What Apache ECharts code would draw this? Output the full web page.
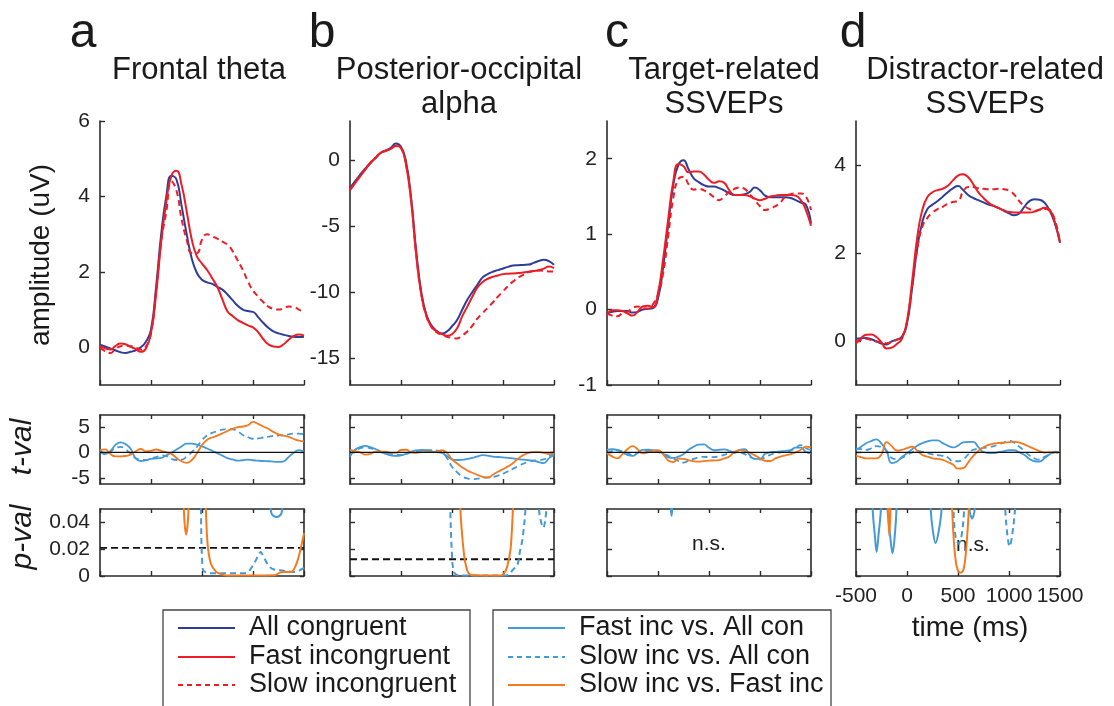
<!DOCTYPE html>
<html>
<head>
<meta charset="utf-8">
<script src="https://cdn.jsdelivr.net/npm/echarts@6/dist/echarts.min.js"></script>
<style>
html, body { margin: 0; padding: 0; background: #fff; }
#chart { width: 1114px; height: 706px; }
</style>
</head>
<body>
<div id="chart"></div>
<script>
// time points (ms)
var time = [-500, -450, -400, -350, -300, -250, -200, -150, -100, -50, 0,
    50, 100, 150, 200, 250, 300, 350, 400, 450, 500,
    550, 600, 650, 700, 750, 800, 850, 900, 950, 1000,
    1050, 1100, 1150, 1200, 1250, 1300, 1350, 1400, 1450, 1500];

// amplitude (uV): a = frontal theta, b = posterior-occipital alpha, c = target SSVEP, d = distractor SSVEP
var ampA_con = [0.07, 0.02, -0.03, -0.08, -0.13, -0.15, -0.12, -0.08, 0.0, 0.15, 0.47,
    1.6, 3.0, 4.0, 4.55, 4.45, 3.75, 3.0, 2.35, 1.97, 1.79,
    1.72, 1.68, 1.6, 1.53, 1.4, 1.25, 1.1, 1.0, 0.96, 0.94,
    0.8, 0.65, 0.52, 0.42, 0.37, 0.33, 0.3, 0.28, 0.27, 0.28];
var ampA_fast = [0.03, -0.03, -0.06, 0.03, 0.1, 0.08, 0.01, -0.05, -0.12, -0.03, 0.38,
    1.4, 2.8, 3.85, 4.55, 4.68, 4.3, 3.6, 2.85, 2.41, 2.22,
    2.05, 1.83, 1.6, 1.27, 0.95, 0.83, 0.72, 0.65, 0.58, 0.53,
    0.4, 0.22, 0.08, 0.02, 0.01, 0.08, 0.2, 0.3, 0.34, 0.31];
var ampA_slow = [-0.02, -0.1, -0.15, -0.06, 0.03, 0.04, 0.03, 0.0, -0.06, 0.02, 0.38,
    1.5, 2.8, 3.6, 4.4, 4.15, 3.4, 2.85, 2.5, 2.5, 2.85,
    3.0, 2.94, 2.88, 2.8, 2.72, 2.55, 2.3, 2.05, 1.75, 1.5,
    1.35, 1.2, 1.08, 1.02, 1.0, 1.03, 1.08, 1.07, 1.0, 0.94];

var ampB_con = [-2.08, -1.55, -1.06, -0.6, -0.18, 0.2, 0.58, 0.78, 0.96, 1.3, 1.05,
    -0.1, -2.9, -6.9, -10.0, -11.7, -12.5, -12.9, -13.1, -12.95, -12.55,
    -12.08, -11.3, -10.55, -9.95, -9.4, -8.85, -8.6, -8.42, -8.3, -8.17,
    -8.05, -7.95, -7.93, -7.9, -7.88, -7.75, -7.6, -7.52, -7.62, -7.9];
var ampB_fast = [-2.25, -1.7, -1.19, -0.68, -0.18, 0.2, 0.58, 0.74, 0.89, 1.1, 0.95,
    -0.35, -3.1, -7.2, -10.2, -11.8, -12.6, -12.95, -13.14, -13.27, -13.15,
    -12.7, -11.8, -11.06, -10.3, -9.6, -9.2, -8.95, -8.8, -8.7, -8.6,
    -8.57, -8.55, -8.52, -8.48, -8.42, -8.36, -8.3, -8.18, -8.03, -8.15];
var ampB_slow = [-2.2, -1.65, -1.15, -0.65, -0.15, 0.22, 0.6, 0.75, 0.9, 1.12, 0.98,
    -0.3, -3.05, -7.15, -10.15, -11.8, -12.62, -13.0, -13.2, -13.35, -13.42,
    -13.47, -13.25, -12.95, -12.5, -11.95, -11.55, -11.15, -10.75, -10.3, -9.9,
    -9.5, -9.15, -8.85, -8.65, -8.45, -8.38, -8.33, -8.35, -8.4, -8.4];

var ampC_con = [-0.05, -0.03, -0.02, -0.02, -0.02, -0.04, -0.03, 0.0, 0.01, 0.02, 0.15,
    0.56, 1.12, 1.65, 1.92, 1.98, 1.86, 1.74, 1.69, 1.65, 1.63,
    1.63, 1.61, 1.58, 1.54, 1.52, 1.52, 1.53, 1.56, 1.62, 1.58,
    1.51, 1.49, 1.49, 1.49, 1.49, 1.48, 1.45, 1.42, 1.39, 1.14];
var ampC_fast = [-0.08, -0.01, -0.01, -0.02, -0.05, -0.08, -0.03, 0.04, 0.05, 0.03, 0.22,
    0.67, 1.2, 1.7, 1.93, 1.9, 1.82, 1.83, 1.83, 1.79, 1.72,
    1.68, 1.7, 1.68, 1.58, 1.52, 1.52, 1.52, 1.5, 1.47, 1.45,
    1.47, 1.5, 1.51, 1.52, 1.52, 1.52, 1.51, 1.45, 1.32, 1.11];
var ampC_slow = [-0.05, -0.08, -0.09, -0.05, -0.03, 0.02, 0.04, 0.02, 0.01, 0.07, 0.2,
    0.48, 0.98, 1.48, 1.73, 1.76, 1.66, 1.59, 1.6, 1.58, 1.54,
    1.49, 1.45, 1.5, 1.56, 1.6, 1.62, 1.6, 1.53, 1.45, 1.37,
    1.32, 1.34, 1.37, 1.42, 1.5, 1.53, 1.54, 1.54, 1.5, 1.32];

var ampD_con = [0.05, 0.06, 0.07, 0.04, -0.01, -0.06, -0.08, -0.01, 0.03, 0.1, 0.4,
    1.2, 2.1, 2.7, 3.0, 3.1, 3.18, 3.28, 3.38, 3.47, 3.52,
    3.43, 3.32, 3.25, 3.2, 3.15, 3.1, 3.07, 3.02, 2.96, 2.9,
    2.86, 2.9, 3.05, 3.18, 3.22, 3.21, 3.14, 2.96, 2.67, 2.24];
var ampD_fast = [-0.06, 0.07, 0.14, 0.15, 0.09, -0.03, -0.17, -0.15, -0.07, 0.05, 0.45,
    1.35, 2.35, 2.98, 3.27, 3.38, 3.43, 3.46, 3.53, 3.65, 3.76,
    3.79, 3.72, 3.56, 3.38, 3.25, 3.14, 3.07, 3.02, 2.97, 2.93,
    2.92, 2.92, 2.92, 2.92, 2.94, 2.99, 3.03, 2.98, 2.7, 2.23];
var ampD_slow = [-0.02, 0.03, 0.05, 0.02, -0.01, -0.03, -0.05, -0.02, 0.03, 0.09, 0.45,
    1.26, 2.09, 2.6, 2.8, 2.92, 3.0, 3.05, 3.12, 3.16, 3.18,
    3.4, 3.5, 3.5, 3.47, 3.46, 3.45, 3.45, 3.46, 3.45, 3.42,
    3.33, 3.18, 3.07, 3.0, 2.96, 2.98, 3.0, 2.96, 2.75, 2.24];

// t-values
var tA_fast = [0.44, -0.3, 0.2, 1.4, 1.95, 1.6, 0.7, -1.2, -1.7, -1.55, -1.3,
    -1.2, -1.1, -0.6, -0.1, 0.55, 1.15, 1.7, 1.7, 1.48, 1.15,
    0.75, 0.3, -0.19, -0.65, -1.13, -1.4, -1.63, -1.55, -1.45, -1.55,
    -1.63, -1.7, -1.75, -1.82, -1.88, -1.76, -0.9, -0.1, 0.44, 0.13];
var tA_slow = [0.13, -0.4, 0.1, 0.8, 1.05, 0.6, -0.25, -1.15, -1.45, -1.5, -1.25,
    -0.95, -0.6, -0.75, -1.3, -1.5, -1.45, -0.8, 0.05, 1.06, 2.4,
    3.3, 3.8, 4.1, 4.45, 4.55, 4.5, 4.1, 3.4, 2.95, 2.65,
    2.7, 2.9, 3.05, 3.22, 3.3, 3.38, 3.5, 3.68, 3.65, 3.56];
var tA_sf = [0.44, 0.56, -0.3, -0.78, -0.8, -0.72, -0.45, 0.2, 0.65, 0.2, 0.3,
    0.55, 0.3, 0.0, -0.3, -1.1, -1.75, -2.05, -1.5, -0.2, 1.4,
    2.44, 2.9, 3.25, 3.7, 4.19, 4.6, 4.95, 5.05, 5.3, 5.94,
    5.55, 5.05, 4.6, 4.0, 3.5, 3.25, 3.0, 2.6, 2.28, 2.13];

var tB_fast = [-0.86, 0.5, 1.0, 1.25, 1.0, 0.65, 0.15, -0.3, -0.6, -0.7, -0.6,
    -0.3, 0.15, 0.38, 0.45, 0.4, 0.2, 0.05, -0.1, -0.7, -1.38,
    -1.5, -1.48, -1.3, -1.1, -0.8, -0.55, -0.65, -0.84, -0.92, -1.0,
    -1.07, -1.2, -1.33, -1.45, -1.55, -1.63, -1.9, -2.1, -1.18, -0.53];
var tB_slow = [-0.53, 0.35, 0.8, 0.99, 0.8, 0.45, 0.05, -0.22, -0.3, -0.38, -0.5,
    -0.35, 0.0, 0.18, 0.3, 0.37, 0.44, 0.35, 0.0, -1.1, -2.83,
    -3.9, -4.7, -5.1, -5.26, -5.15, -5.0, -4.9, -4.82, -4.55, -4.2,
    -3.7, -3.2, -2.7, -2.2, -1.9, -1.65, -1.5, -1.38, -0.8, -0.2];
var tB_sf = [0.46, 0.25, 0.0, -0.45, -0.3, 0.13, 0.15, 0.12, -0.1, -0.1, 0.45,
    0.5, 0.0, -0.1, 0.05, 0.1, 0.02, 0.1, 0.4, -0.1, -1.38,
    -2.2, -2.95, -3.55, -4.0, -4.4, -4.8, -4.95, -4.4, -3.8, -3.3,
    -2.75, -2.1, -1.2, -0.55, -0.1, 0.05, 0.02, -0.1, -0.33, -0.2];

var tC_fast = [0.46, 0.6, 0.5, -0.05, -0.5, -0.7, -0.1, 0.46, 0.5, 0.4, 0.3,
    -0.3, -1.0, -1.1, -0.85, -0.4, 0.5, 1.1, 1.5, 1.55, 0.9,
    0.4, 0.5, 0.58, 0.3, -0.15, 0.5, 0.6, -0.6, -1.3, -1.3,
    -0.3, 0.0, 0.1, 0.2, 0.3, 0.45, 0.9, 0.9, 0.05, -0.2];
var tC_slow = [-0.2, 0.25, 0.4, 0.2, -0.15, -0.5, -0.1, 0.2, 0.3, 0.25, 0.05,
    -0.25, -0.7, -1.15, -1.7, -2.0, -1.65, -1.3, -1.0, -0.88, -0.95,
    -0.95, -0.75, -0.5, -0.15, 0.13, -0.05, -0.35, -0.9, -1.3, -1.45,
    -0.95, -0.5, -0.15, 0.0, 0.15, 0.32, 0.9, 1.4, 0.79, 0.46];
var tC_sf = [-0.2, -0.8, -1.18, -0.4, 0.6, 1.2, 0.6, -0.2, 0.0, 0.3, 0.4,
    -0.4, -1.6, -1.9, -1.25, -1.3, -1.55, -1.75, -1.83, -1.72, -1.63,
    -1.58, -1.51, -1.2, -0.8, 0.1, 0.42, 0.25, -0.1, -0.6, -1.15,
    -1.65, -1.7, -1.2, -0.85, -0.6, -0.35, 0.0, 0.5, 1.12, 0.99];

var tD_fast = [0.46, 1.1, 1.78, 2.2, 2.55, 1.7, 0.2, -2.1, -1.85, -0.9, -0.2,
    0.6, 1.3, 1.8, 2.15, 2.35, 2.35, 1.8, 1.3, 0.95, 1.3,
    1.95, 2.05, 2.05, 1.0, 0.05, -0.15, -0.15, 0.05, 0.2, 0.4,
    0.4, 0.0, -0.5, -1.3, -1.75, -1.8, -1.1, -0.4, 0.13, 0.0];
var tD_slow = [0.79, 0.6, 0.46, 0.8, 1.2, 1.0, 0.3, -1.1, -1.35, -1.1, -0.53,
    0.0, 0.3, 0.1, -0.15, -0.4, -0.55, -0.68, -1.0, -1.75, -1.75,
    -1.4, -0.4, 0.5, 0.65, 0.85, 1.0, 1.2, 1.55, 1.9, 2.25,
    1.9, 1.12, 0.3, -0.6, -1.2, -1.45, -0.9, -0.4, 0.0, 0.0];
var tD_sf = [-0.72, -0.95, -1.18, -1.2, -1.18, -0.4, 2.0, 1.2, 0.35, 0.5, 0.8,
    1.12, 0.3, -0.53, -0.85, -1.18, -1.3, -1.48, -1.9, -2.4, -3.2,
    -3.1, -2.0, -0.7, 0.25, 1.0, 1.45, 1.7, 1.82, 1.9, 1.98,
    2.08, 1.9, 1.55, 1.1, 0.65, 0.25, -0.05, 0.0, 0.0, 0.0];

// p-values [time, p]; values above 0.05 fall outside the axis
var pA_fast = [[1120, 0.09], [1180, 0.047], [1230, 0.044], [1280, 0.047], [1330, 0.09]];
var pA_slow = [[470, 0.2], [490, 0.05], [505, 0.006], [530, 0.003], [600, 0.002], [700, 0.002],
    [800, 0.002], [900, 0.002], [950, 0.003], [1000, 0.008], [1050, 0.015], [1075, 0.018],
    [1100, 0.015], [1150, 0.008], [1200, 0.005], [1300, 0.004], [1400, 0.003], [1450, 0.004], [1500, 0.006]];
var pA_sf = [[300, 0.1], [325, 0.045], [344, 0.031], [365, 0.045], [390, 0.1], [525, 0.1],
    [540, 0.045], [557, 0.022], [580, 0.011], [600, 0.007], [640, 0.003], [682, 0.0015],
    [748, 0.0003], [1000, 0.0003], [1208, 0.0005], [1250, 0.002], [1290, 0.003], [1372, 0.003],
    [1420, 0.008], [1460, 0.018], [1500, 0.032]];

var pB_slow = [[470, 0.1], [483, 0.05], [500, 0.015], [515, 0.004], [540, 0.001], [600, 0.0003],
    [1000, 0.0003], [1057, 0.001], [1100, 0.005], [1140, 0.008], [1170, 0.02], [1190, 0.027],
    [1220, 0.05], [1240, 0.1], [1330, 0.1], [1352, 0.05], [1395, 0.036], [1425, 0.05], [1445, 0.1]];
var pB_sf = [[560, 0.1], [582, 0.05], [600, 0.03], [625, 0.012], [650, 0.004], [670, 0.0015],
    [700, 0.0005], [975, 0.0003], [1010, 0.002], [1041, 0.007], [1074, 0.02], [1097, 0.05], [1120, 0.1]];

var pC_fast = [[110, 0.1], [127, 0.05], [133, 0.045], [139, 0.05], [155, 0.1]];

var pD_fast = [[-360, 0.1], [-337, 0.05], [-315, 0.03], [-298, 0.018], [-280, 0.03], [-256, 0.05], [-240, 0.1],
    [-210, 0.1], [-191, 0.05], [-165, 0.03], [-142, 0.017], [-120, 0.03], [-103, 0.05], [-85, 0.1],
    [210, 0.1], [232, 0.05], [255, 0.033], [280, 0.0245], [310, 0.033], [339, 0.05], [360, 0.1],
    [590, 0.1], [612, 0.05], [638, 0.043], [664, 0.05], [690, 0.1]];
var pD_slow = [[430, 0.1], [455, 0.05], [475, 0.03], [505, 0.024], [535, 0.03], [560, 0.05], [580, 0.1],
    [940, 0.1], [963, 0.05], [985, 0.03], [1006, 0.022], [1030, 0.03], [1060, 0.05], [1087, 0.08], [1100, 0.1]];
var pD_sf = [[-200, 0.1], [-185, 0.05], [-174, 0.03], [-162, 0.05], [-150, 0.1],
    [420, 0.1], [443, 0.05], [460, 0.025], [480, 0.01], [500, 0.004], [524, 0.0025], [550, 0.004],
    [570, 0.012], [590, 0.03], [606, 0.05], [625, 0.1]];

var pThresh = [0.021, 0.0125, null, null];

// ticks and ranges
var timeTicks = [-500, 0, 500, 1000, 1500];
var ampTicks = [[0, 2, 4, 6], [-15, -10, -5, 0], [-1, 0, 1, 2], [0, 2, 4]];
var ampRange = [[-1, 6], [-17, 3], [-1, 2.5], [-1, 5]];
var tTicks = [-5, 0, 5];
var tRange = [-6.2, 7.3];
var pTicks = [0, 0.02, 0.04];
var pRange = [0, 0.05];

var letters = ['a', 'b', 'c', 'd'];
var titles = [['Frontal theta'], ['Posterior-occipital', 'alpha'], ['Target-related', 'SSVEPs'], ['Distractor-related', 'SSVEPs']];
var names = ['All congruent', 'Fast incongruent', 'Slow incongruent'];
var tNames = ['Fast inc vs. All con', 'Slow inc vs. All con', 'Slow inc vs. Fast inc'];

var amp = [[ampA_con, ampA_fast, ampA_slow], [ampB_con, ampB_fast, ampB_slow],
    [ampC_con, ampC_fast, ampC_slow], [ampD_con, ampD_fast, ampD_slow]];
var tval = [[tA_fast, tA_slow, tA_sf], [tB_fast, tB_slow, tB_sf],
    [tC_fast, tC_slow, tC_sf], [tD_fast, tD_slow, tD_sf]];
var pval = [[pA_fast, pA_slow, pA_sf], [null, pB_slow, pB_sf],
    [pC_fast, null, null], [pD_fast, pD_slow, pD_sf]];

// layout
var FONT = '"Liberation Sans", Arial, Helvetica, sans-serif';
var AX = '#2b2b2b';
var colLeft = [100, 350, 607, 856];
var colW = 204;
var rows = [[121, 264], [415, 69], [509, 67]];
var ampColors = ['#2e3e98', '#ee1d25', '#ee1d25'];
var tColors = ['#4499d7', '#4499d7', '#f47a20'];
var dashes = [false, false, true];
var tDashes = [false, true, false];

function pairs(vals) {
    return time.map(function (t, i) { return [t, vals[i]]; });
}

function axisLine() {
    return { show: true, onZero: false, lineStyle: { color: AX, width: 1.6 } };
}

function line(name, data, xi, yi, color, dashed, width, smooth) {
    return {
        type: 'line', name: name, data: data, xAxisIndex: xi, yAxisIndex: yi,
        symbol: 'none', smooth: smooth, clip: true, z: 3,
        lineStyle: { color: color, width: width, type: dashed ? [6, 4] : 'solid' },
        itemStyle: { color: color }
    };
}

var grid = [], xAxis = [], yAxis = [], series = [];

for (var c = 0; c < 4; c++) {
    for (var r = 0; r < 3; r++) {
        var gi = grid.length;
        grid.push({ left: colLeft[c], top: rows[r][0], width: colW, height: rows[r][1] });
        var range = r === 0 ? ampRange[c] : (r === 1 ? tRange : pRange);
        var yt = r === 0 ? ampTicks[c] : (r === 1 ? tTicks : pTicks);
        var showY = r === 0 || c === 0;
        var showX = r === 2 && c === 3;

        var xi = xAxis.length;
        xAxis.push({
            type: 'value', gridIndex: gi, min: -500, max: 1500, interval: 500,
            axisLine: axisLine(),
            axisTick: { show: true, inside: true, length: 5, customValues: timeTicks, lineStyle: { color: AX, width: 1.4 } },
            axisLabel: {
                show: showX, customValues: timeTicks, fontSize: 21, color: '#222', fontFamily: FONT, margin: 10,
                hideOverlap: false, formatter: function (v) { return String(v); }
            },
            splitLine: { show: false }
        });
        var yi = yAxis.length;
        yAxis.push({
            type: 'value', gridIndex: gi, min: range[0], max: range[1],
            axisLine: axisLine(),
            axisTick: { show: true, inside: true, length: 5, customValues: yt, lineStyle: { color: AX, width: 1.4 } },
            axisLabel: { show: showY, customValues: yt, fontSize: 21, color: '#222', fontFamily: FONT, margin: 10 },
            splitLine: { show: false }
        });
        if (r > 0) {
            // box on: mirror axes at top and right
            xAxis.push({
                type: 'value', gridIndex: gi, position: 'top', min: -500, max: 1500, interval: 500,
                axisLine: axisLine(),
                axisTick: { show: true, inside: true, length: 4, lineStyle: { color: AX, width: 1.4 } },
                axisLabel: { show: false }, splitLine: { show: false }
            });
            yAxis.push({
                type: 'value', gridIndex: gi, position: 'right', min: range[0], max: range[1],
                axisLine: axisLine(),
                axisTick: { show: true, inside: true, length: 4, customValues: yt, lineStyle: { color: AX, width: 1.4 } },
                axisLabel: { show: false }, splitLine: { show: false }
            });
        }

        if (r === 0) {
            for (var k = 0; k < 3; k++) {
                series.push(line(names[k], pairs(amp[c][k]), xi, yi, ampColors[k], dashes[k], 2, 0.5));
            }
        } else if (r === 1) {
            for (var k = 0; k < 3; k++) {
                series.push(line(tNames[k], pairs(tval[c][k]), xi, yi, tColors[k], tDashes[k], 1.8, 0.5));
            }
            series.push({
                type: 'line', data: [[-500, 0], [1500, 0]], xAxisIndex: xi, yAxisIndex: yi,
                symbol: 'none', z: 4, silent: true,
                lineStyle: { color: '#111', width: 1.3 }
            });
        } else {
            if (pThresh[c] !== null) {
                series.push({
                    type: 'line', data: [[-500, pThresh[c]], [1500, pThresh[c]]], xAxisIndex: xi, yAxisIndex: yi,
                    symbol: 'none', z: 2, silent: true,
                    lineStyle: { color: '#111', width: 1.8, type: [7, 4] }
                });
            }
            for (var k = 0; k < 3; k++) {
                if (pval[c][k]) {
                    series.push(line(tNames[k], pval[c][k], xi, yi, tColors[k], tDashes[k], 2, 0.35));
                }
            }
        }
    }
}

var graphic = [];
function txt(x, y, s, size, extra) {
    var st = { text: s, x: 0, y: 0, fill: '#1a1a1a', font: size + 'px ' + FONT, textAlign: 'center', textVerticalAlign: 'middle' };
    var g = { type: 'text', x: x, y: y, style: st, silent: true };
    if (extra) {
        if (extra.rotation) g.rotation = extra.rotation;
        if (extra.italic) st.font = 'italic ' + st.font;
        if (extra.align) st.textAlign = extra.align;
    }
    graphic.push(g);
}

var letterX = [83, 322, 617, 853];
var titleX = [199, 459, 724, 985];
for (var i = 0; i < 4; i++) {
    txt(letterX[i], 34, letters[i], 48);
    for (var j = 0; j < titles[i].length; j++) {
        txt(titleX[i], 70 + j * 34, titles[i][j], 31);
    }
}
txt(41, 255, 'amplitude (uV)', 28, { rotation: Math.PI / 2 });
txt(23, 447, 't-val', 30, { rotation: Math.PI / 2, italic: true });
txt(23, 537, 'p-val', 30, { rotation: Math.PI / 2, italic: true });
txt(709, 544, 'n.s.', 21);
txt(973, 545, 'n.s.', 21);
txt(970, 628, 'time (ms)', 28);

// legend boxes (bottom edge runs off the page as in the figure)
var legendRowsY = [628, 657, 685];
function legendBox(labels, colors, dashed, boxX, boxW) {
    graphic.push({
        type: 'rect', silent: true, shape: { x: boxX, y: 610, width: boxW, height: 130 },
        style: { fill: 'none', stroke: '#444', lineWidth: 1.3 }
    });
    for (var k = 0; k < labels.length; k++) {
        graphic.push({
            type: 'line', silent: true,
            shape: { x1: boxX + 15, y1: legendRowsY[k], x2: boxX + 72, y2: legendRowsY[k] },
            style: { stroke: colors[k], lineWidth: 2, lineDash: dashed[k] ? [5, 4] : null }
        });
        txt(boxX + 86, legendRowsY[k], labels[k], 27, { align: 'left' });
    }
}
legendBox(names, ampColors, dashes, 163, 307);
legendBox(tNames, tColors, tDashes, 493, 338);

var chart = echarts.init(document.getElementById('chart'), null, { renderer: 'canvas' });
chart.setOption({
    backgroundColor: '#fff',
    animation: false,
    grid: grid,
    xAxis: xAxis,
    yAxis: yAxis,
    graphic: graphic,
    series: series
});
</script>
</body>
</html>
